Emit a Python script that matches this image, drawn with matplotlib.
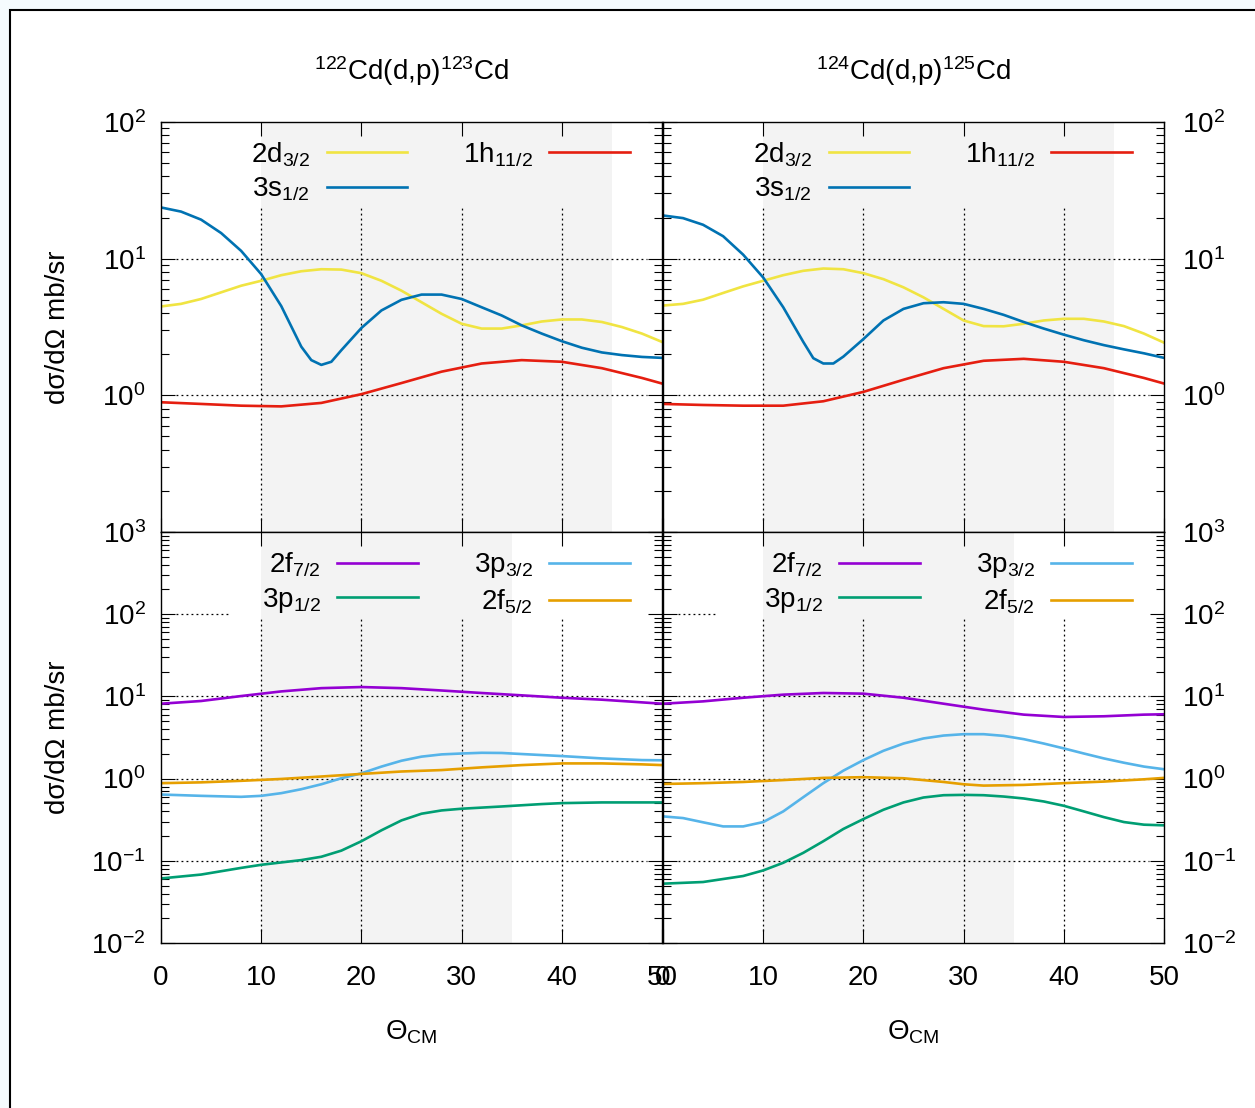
import numpy as np
import matplotlib
matplotlib.use('Agg')
import matplotlib.pyplot as plt
from matplotlib.ticker import LogLocator, NullFormatter, FuncFormatter
from matplotlib.patches import Rectangle

plt.rcParams['font.family'] = ['Liberation Sans', 'DejaVu Sans']
plt.rcParams['mathtext.fontset'] = 'custom'
plt.rcParams['mathtext.rm'] = 'Liberation Sans'
plt.rcParams['mathtext.it'] = 'Liberation Sans:italic'
plt.rcParams['mathtext.bf'] = 'Liberation Sans:bold'

# angles (deg, CM)
ang = [0, 2, 4, 6, 8, 10, 12, 14, 16, 18, 20, 22, 24, 26, 28, 30, 32, 34, 36, 38, 40, 42, 44, 46, 48, 50]
ang_s = [0, 2, 4, 6, 8, 10, 12, 14, 15, 16, 17, 18, 20, 22, 24, 26, 28, 30, 32, 34, 36, 38, 40, 42, 44, 46, 48, 50]
ang_4 = [0, 4, 8, 12, 16, 20, 24, 28, 32, 36, 40, 44, 48, 50]

# 122Cd(d,p)123Cd, positive parity
d32_122 = [4.47, 4.67, 5.07, 5.67, 6.34, 6.89, 7.57, 8.09, 8.37, 8.32, 7.83, 6.89, 5.83, 4.80, 3.95, 3.34,
           3.08, 3.08, 3.25, 3.47, 3.59, 3.59, 3.44, 3.16, 2.83, 2.46]
s12_122 = [23.7, 22.1, 19.3, 15.4, 11.4, 7.7, 4.5, 2.27, 1.81, 1.67, 1.76, 2.14, 3.11, 4.18, 5.0, 5.46, 5.46,
           5.07, 4.41, 3.84, 3.25, 2.83, 2.49, 2.23, 2.06, 1.97, 1.91, 1.88]
h112_122 = [0.89, 0.865, 0.84, 0.83, 0.88, 1.02, 1.23, 1.49, 1.71, 1.81, 1.76, 1.58, 1.34, 1.22]

# 124Cd(d,p)125Cd, positive parity
d32_124 = [4.54, 4.67, 5.01, 5.61, 6.27, 6.89, 7.57, 8.15, 8.47, 8.37, 7.83, 7.08, 6.17, 5.21, 4.29, 3.53,
           3.21, 3.20, 3.34, 3.53, 3.63, 3.63, 3.47, 3.21, 2.83, 2.43]
s12_124 = [20.7, 19.8, 17.7, 14.6, 10.7, 7.28, 4.41, 2.46, 1.87, 1.71, 1.71, 1.92, 2.58, 3.53, 4.29, 4.72, 4.80,
           4.67, 4.29, 3.88, 3.44, 3.08, 2.78, 2.53, 2.33, 2.17, 2.03, 1.88]
h112_124 = [0.865, 0.85, 0.84, 0.84, 0.905, 1.06, 1.30, 1.58, 1.79, 1.85, 1.76, 1.58, 1.34, 1.22]

# 122Cd, negative parity
f72_122 = [8.15, 8.79, 10.1, 11.5, 12.6, 13.0, 12.6, 11.8, 11.0, 10.3, 9.63, 9.12, 8.46, 8.15]
ang_p32_122 = [0, 4, 8, 10, 12, 14, 16, 18, 20, 22, 24, 26, 28, 30, 32, 34, 36, 40, 44, 48, 50]
p32_122 = [0.64, 0.617, 0.60, 0.617, 0.665, 0.743, 0.853, 1.01, 1.16, 1.40, 1.65, 1.85, 1.97, 2.02, 2.06, 2.05,
           1.99, 1.88, 1.76, 1.68, 1.67]
f52_122 = [0.88, 0.90, 0.94, 0.99, 1.06, 1.14, 1.22, 1.27, 1.37, 1.46, 1.53, 1.53, 1.49, 1.46]
ang_p12_122 = [0, 4, 8, 10, 14, 16, 18, 20, 22, 24, 26, 28, 30, 34, 38, 40, 44, 48, 50]
p12_122 = [0.061, 0.068, 0.082, 0.0894, 0.102, 0.112, 0.133, 0.173, 0.235, 0.31, 0.374, 0.41, 0.43, 0.458,
           0.49, 0.503, 0.513, 0.513, 0.513]

# 124Cd, negative parity
f72_124 = [8.15, 8.70, 9.63, 10.5, 11.0, 10.8, 9.63, 8.15, 6.90, 6.0, 5.62, 5.73, 6.0, 6.06]
p32_124 = [0.347, 0.331, 0.294, 0.262, 0.262, 0.296, 0.399, 0.594, 0.88, 1.25, 1.68, 2.18, 2.67, 3.08, 3.34,
           3.47, 3.47, 3.31, 3.02, 2.67, 2.33, 2.02, 1.76, 1.56, 1.40, 1.30]
ang_f52_124 = [0, 4, 8, 12, 16, 20, 24, 28, 30, 32, 36, 40, 44, 48, 50]
f52_124 = [0.86, 0.88, 0.91, 0.96, 1.02, 1.04, 1.01, 0.91, 0.853, 0.822, 0.838, 0.88, 0.92, 0.98, 1.02]
ang_p12_124 = [0, 4, 8, 10, 12, 14, 16, 18, 20, 22, 24, 26, 28, 30, 32, 34, 36, 38, 40, 42, 44, 46, 48, 50]
p12_124 = [0.0527, 0.0552, 0.0653, 0.0764, 0.0946, 0.125, 0.173, 0.244, 0.322, 0.418, 0.513, 0.589, 0.628,
           0.634, 0.628, 0.605, 0.573, 0.527, 0.467, 0.399, 0.34, 0.296, 0.275, 0.27]

titles = ['$^{122}$Cd(d,p)$^{123}$Cd', '$^{124}$Cd(d,p)$^{125}$Cd']

c_yel, c_blu, c_red = '#f0e442', '#0072b2', '#e51e10'
c_pur, c_grn, c_lbl, c_orn = '#9400d3', '#009e73', '#56b4e9', '#e69f00'
FS = 20

fig = plt.figure(figsize=(12.55, 11.08), dpi=100)
fig.patch.set_facecolor('#f5fbfe')
fig.add_artist(Rectangle((10 / 1255, -0.05), 1.0, 1 - 10 / 1108 + 0.05, transform=fig.transFigure,
                         facecolor='white', edgecolor='black', lw=1.5, zorder=-1))

L, R, W = 161 / 1255, 663 / 1255, 501 / 1255
axTL = fig.add_axes([L, 1 - 532 / 1108, W, 410 / 1108])
axTR = fig.add_axes([R, 1 - 532 / 1108, W, 410 / 1108])
axBL = fig.add_axes([L, 1 - 943 / 1108, W, 411 / 1108])
axBR = fig.add_axes([R, 1 - 943 / 1108, W, 411 / 1108])


def setup(ax, ylo, yhi, shade_hi, vtop, hcut, right, bottom, hide_low):
    ax.set_xlim(0, 50)
    ax.set_yscale('log')
    ax.set_ylim(ylo, yhi)
    ax.set_facecolor('white')
    ax.axvspan(10, shade_hi, color='#f3f3f3', lw=0, zorder=0.3)
    gl = dict(color='black', lw=0.9, ls=(0, (1.5, 2.5)), zorder=0.6)
    for xv in [10, 20, 30, 40]:
        ax.axvline(xv, ymin=0.03, ymax=vtop, **gl)
    for e in range(int(np.log10(ylo)) + 1, int(np.log10(yhi))):
        xm = hcut.get(e, 0.97)
        ax.axhline(10.0 ** e, xmin=0.03, xmax=xm, **gl)
    ax.set_xticks([0, 10, 20, 30, 40, 50])
    ax.yaxis.set_major_locator(LogLocator(base=10, numticks=20))
    ax.yaxis.set_minor_locator(LogLocator(base=10, subs=range(2, 10), numticks=20))
    ax.yaxis.set_minor_formatter(NullFormatter())

    def fmt(v, _):
        e = int(round(np.log10(v)))
        if hide_low and e <= -1:
            return ''
        return '$10^{%d}$' % e
    ax.yaxis.set_major_formatter(FuncFormatter(fmt))
    ax.tick_params(which='both', direction='in', top=True, right=True, width=0.8, labelsize=FS)
    ax.tick_params(which='major', length=10)
    ax.tick_params(which='minor', length=5.5)
    ax.tick_params(axis='x', pad=16)
    ax.tick_params(axis='y', pad=11 if not right else 13)
    ax.tick_params(labelleft=not right, labelright=right, labelbottom=bottom)
    for s in ax.spines.values():
        s.set_linewidth(1.0)


setup(axTL, 0.1, 100, 45, 0.797, {}, False, False, True)
setup(axTR, 0.1, 100, 45, 0.797, {}, True, False, True)
setup(axBL, 0.01, 1000, 35, 0.793, {2: 6.9 / 50}, False, True, False)
setup(axBR, 0.01, 1000, 35, 0.793, {2: 5.4 / 50}, True, True, False)

lw = 1.9
leg = dict(loc='upper right', ncol=2, frameon=False, markerfirst=False, handlelength=2.9,
           columnspacing=2.0, labelspacing=0.25, handletextpad=0.6, fontsize=FS, borderaxespad=0, borderpad=0)

for ax, d32, s12, h112 in [(axTL, d32_122, s12_122, h112_122), (axTR, d32_124, s12_124, h112_124)]:
    ax.plot(ang, d32, color=c_yel, lw=lw, label='2d$_{3/2}$', zorder=2, solid_joinstyle='round')
    ax.plot(ang_s, s12, color=c_blu, lw=lw, label='3s$_{1/2}$', zorder=2, solid_joinstyle='round')
    ax.plot(ang_4, h112, color=c_red, lw=lw, label='1h$_{11/2}$', zorder=2, solid_joinstyle='round')
    ax.legend(bbox_to_anchor=(0.936, 0.956), **leg)

axBL.plot(ang_4, f72_122, color=c_pur, lw=lw, label='2f$_{7/2}$', zorder=2, solid_joinstyle='round')
axBL.plot(ang_p12_122, p12_122, color=c_grn, lw=lw, label='3p$_{1/2}$', zorder=2, solid_joinstyle='round')
axBL.plot(ang_p32_122, p32_122, color=c_lbl, lw=lw, label='3p$_{3/2}$', zorder=2, solid_joinstyle='round')
axBL.plot(ang_4, f52_122, color=c_orn, lw=lw, label='2f$_{5/2}$', zorder=2, solid_joinstyle='round')

axBR.plot(ang_4, f72_124, color=c_pur, lw=lw, label='2f$_{7/2}$', zorder=2, solid_joinstyle='round')
axBR.plot(ang_p12_124, p12_124, color=c_grn, lw=lw, label='3p$_{1/2}$', zorder=2, solid_joinstyle='round')
axBR.plot(ang, p32_124, color=c_lbl, lw=lw, label='3p$_{3/2}$', zorder=2, solid_joinstyle='round')
axBR.plot(ang_f52_124, f52_124, color=c_orn, lw=lw, label='2f$_{5/2}$', zorder=2, solid_joinstyle='round')

for ax in (axBL, axBR):
    ax.legend(bbox_to_anchor=(0.936, 0.955), **leg)
    ax.set_xlabel('Θ$_{\\mathregular{CM}}$', fontsize=FS, labelpad=20)

for ax in (axTL, axBL):
    ax.set_ylabel('dσ/dΩ mb/sr', fontsize=FS)
    ax.yaxis.set_label_coords(-0.18, 0.5)

axTL.set_title(titles[0], fontsize=FS, pad=30)
axTR.set_title(titles[1], fontsize=FS, pad=30)

fig.savefig('out.png', dpi=100, facecolor=fig.get_facecolor())
